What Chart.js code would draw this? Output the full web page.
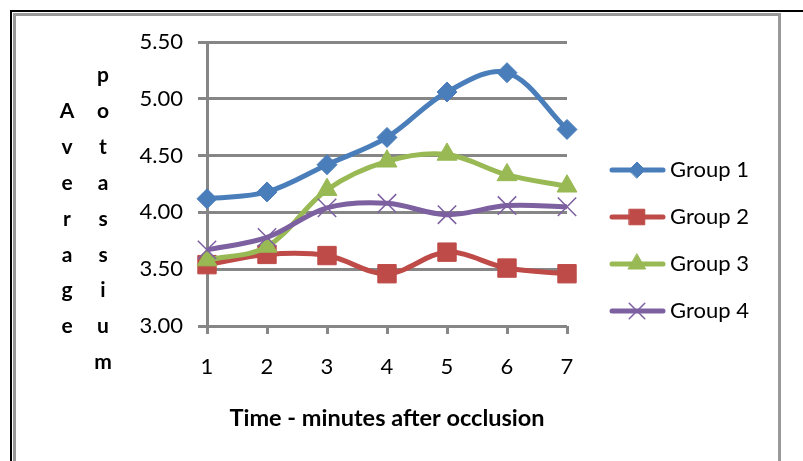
<!DOCTYPE html>
<html><head><meta charset="utf-8">
<script src="https://cdn.jsdelivr.net/npm/chart.js@4.4.0/dist/chart.umd.min.js"></script>
<style>html,body{margin:0;padding:0;background:#fff;overflow:hidden}canvas{display:block}</style>
</head><body>
<canvas id="c" width="803" height="461"></canvas>
<script>
const categories = ['1', '2', '3', '4', '5', '6', '7'];
const group1 = [4.12, 4.18, 4.42, 4.66, 5.06, 5.23, 4.73];
const group2 = [3.54, 3.63, 3.62, 3.46, 3.65, 3.51, 3.46];
const group3 = [3.58, 3.70, 4.20, 4.45, 4.51, 4.33, 4.23];
const group4 = [3.67, 3.78, 4.04, 4.08, 3.98, 4.06, 4.05];
const seriesNames = ['Group 1', 'Group 2', 'Group 3', 'Group 4'];
const yTicks = [3.00, 3.50, 4.00, 4.50, 5.00, 5.50];
const xTitle = 'Time - minutes after occlusion';
const yTitleCol1 = 'Average';
const yTitleCol2 = 'potassium';

const FONT = 'Lato, "Open Sans", "Liberation Sans", sans-serif';
const colors = ['#4A7EBB', '#BE4B48', '#98B954', '#7D60A0'];
const styles = ['rectRot', 'rect', 'triangle', 'crossRot'];
const radii = [10, 13, 11.5, 13];
const GRID = '#868686';

const seriesValues = [group1, group2, group3, group4];
const datasets = seriesValues.map((vals, i) => ({
  label: seriesNames[i],
  data: vals,
  borderColor: colors[i],
  backgroundColor: colors[i],
  borderWidth: 5,
  pointStyle: styles[i],
  pointRadius: radii[i],
  pointHoverRadius: radii[i],
  pointBackgroundColor: colors[i],
  pointBorderColor: colors[i],
  pointBorderWidth: i === 3 ? 1.5 : 1,
  tension: 0.35,
  fill: false,
  order: 3 - i
}));

const decor = {
  id: 'decor',
  beforeDraw(chart) {
    const ctx = chart.ctx;
    ctx.save();
    ctx.fillStyle = '#fff';
    ctx.fillRect(0, 0, chart.width, chart.height);
    ctx.fillStyle = '#000';
    ctx.fillRect(10, 10, 793, 2);
    ctx.fillRect(10, 10, 2, 451);
    ctx.fillStyle = '#999';
    ctx.fillRect(13, 13, 768, 3);
    ctx.fillRect(13, 13, 3, 448);
    ctx.fillRect(778, 13, 3, 448);
    ctx.restore();
  },
  afterDraw(chart) {
    const ctx = chart.ctx;
    ctx.save();
    ctx.fillStyle = '#000';
    ctx.font = 'bold 21px ' + FONT;
    ctx.textAlign = 'center';
    ctx.textBaseline = 'alphabetic';
    const step = 35.9, base = 82;
    yTitleCol2.split('').forEach((ch, k) => ctx.fillText(ch, 103, base + step * k));
    yTitleCol1.split('').forEach((ch, k) => ctx.fillText(ch, 67, base + step * (k + 1)));
    const helpers = Chart.helpers;
    chart.data.datasets.forEach((ds, i) => {
      const y = 170 + 47 * i;
      ctx.strokeStyle = ds.borderColor;
      ctx.lineWidth = 5;
      ctx.lineCap = 'round';
      ctx.beginPath();
      ctx.moveTo(612, y);
      ctx.lineTo(663, y);
      ctx.stroke();
      ctx.fillStyle = ds.borderColor;
      ctx.strokeStyle = ds.borderColor;
      ctx.lineWidth = i === 3 ? 1.5 : 1;
      const lr = [8, 11, 10, 11][i];
      if (helpers && helpers.drawPoint) {
        helpers.drawPoint(ctx, {pointStyle: ds.pointStyle, rotation: 0, radius: lr, borderWidth: ctx.lineWidth}, 637, y);
      }
      ctx.fillStyle = '#000';
      ctx.font = '22px ' + FONT;
      ctx.textAlign = 'left';
      ctx.textBaseline = 'middle';
      ctx.fillText(ds.label, 670, y);
    });
    ctx.restore();
  }
};

new Chart(document.getElementById('c'), {
  type: 'line',
  data: { labels: categories, datasets },
  plugins: [decor],
  options: {
    responsive: false,
    animation: false,
    events: [],
    layout: { padding: { left: 0, top: 42, right: 236, bottom: 0 } },
    plugins: { legend: { display: false }, tooltip: { enabled: false }, title: { display: false } },
    scales: {
      x: {
        type: 'category',
        offset: false,
        grid: { drawOnChartArea: false, drawTicks: true, tickLength: 8, color: GRID, lineWidth: 3 },
        border: { display: false },
        ticks: { color: '#000', font: { family: FONT, size: 22 }, padding: 20, maxRotation: 0 },
        title: { display: true, text: xTitle, color: '#000', font: { family: FONT, size: 23.5, weight: 'bold' }, padding: { top: 0, bottom: 28 } },
        afterFit: s => { s.height = 135; }
      },
      y: {
        min: 3, max: 5.5,
        afterBuildTicks: s => { s.ticks = yTicks.map(v => ({ value: v })); },
        ticks: { color: '#000', font: { family: FONT, size: 22 }, padding: 15, callback: v => Number(v).toFixed(2) },
        grid: { color: GRID, lineWidth: 3, tickLength: 9, drawTicks: true },
        border: { display: true, color: GRID, width: 3 },
        afterFit: s => { s.width = 207; }
      }
    }
  }
});
</script>
</body></html>
